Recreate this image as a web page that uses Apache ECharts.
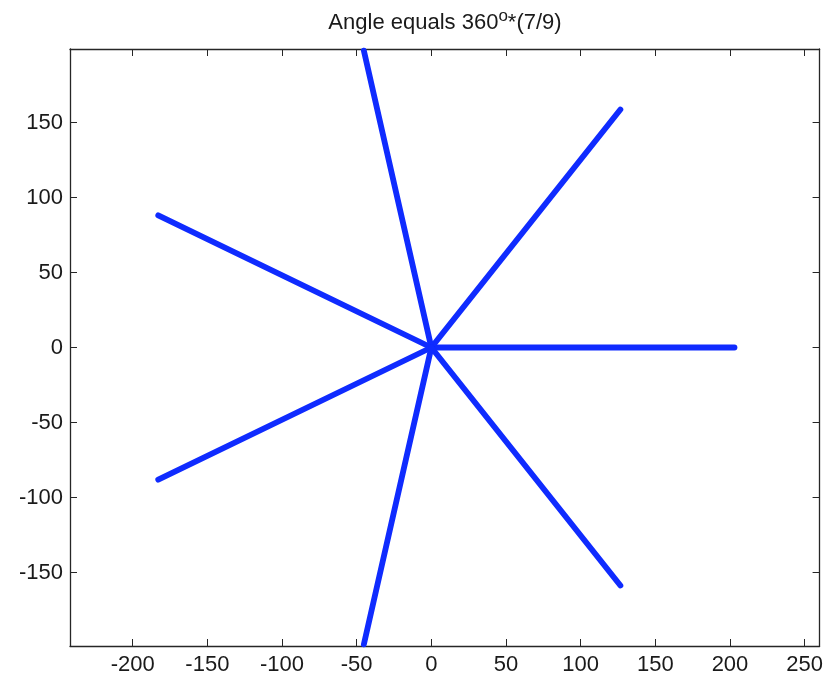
<!DOCTYPE html>
<html>
<head>
<meta charset="utf-8">
<script src="https://cdn.jsdelivr.net/npm/echarts@6/dist/echarts.min.js"></script>
<style>
html, body { margin: 0; padding: 0; background: #fff; }
#main { width: 826px; height: 680px; }
</style>
</head>
<body>
<div id="main"></div>
<script>
// ray end points (all rays start at the origin)
var rayX = [203, 126.6, -45.2, -182.9, -182.9, -45.2, 126.6];
var rayY = [0, 158.7, 197.9, 88.1, -88.1, -197.9, -158.7];
var xTicks = [-200, -150, -100, -50, 0, 50, 100, 150, 200, 250];
var yTicks = [-150, -100, -50, 0, 50, 100, 150];

var myChart = echarts.init(document.getElementById('main'));

// one line series per ray
var rays = [];
for (var i = 0; i < rayX.length; i++) {
    rays.push({
        type: 'line',
        xAxisIndex: 0,
        yAxisIndex: 0,
        data: [[0, 0], [rayX[i], rayY[i]]],
        symbol: 'none',
        silent: true,
        lineStyle: { color: '#0f2bff', width: 5.8, cap: 'round' }
    });
}

var axisCommon = {
    type: 'value',
    splitLine: { show: false },
    axisLine: { onZero: false, lineStyle: { color: '#262626', width: 1.3 } },
    axisTick: { inside: true, length: 7, lineStyle: { color: '#262626' } }
};

function xAxis(pos, showLabel) {
    return Object.assign({}, axisCommon, {
        position: pos,
        min: -242,
        max: 260,
        axisTick: Object.assign({}, axisCommon.axisTick, { customValues: xTicks }),
        axisLabel: {
            show: showLabel,
            customValues: xTicks,
            color: '#1a1a1a',
            fontFamily: 'Liberation Sans',
            fontSize: 22,
            margin: 8
        }
    });
}

function yAxis(pos, showLabel) {
    return Object.assign({}, axisCommon, {
        position: pos,
        min: -199,
        max: 199,
        axisTick: Object.assign({}, axisCommon.axisTick, { customValues: yTicks }),
        axisLabel: {
            show: showLabel,
            customValues: yTicks,
            color: '#1a1a1a',
            fontFamily: 'Liberation Sans',
            fontSize: 22,
            margin: 7
        }
    });
}

var option = {
    backgroundColor: '#fff',
    animation: false,
    title: {
        text: '{t|Angle equals 360}{sup|o}{t|*(7/9)}',
        left: 440,
        top: 3,
        textAlign: 'center',
        textStyle: {
            color: '#1a1a1a',
            fontFamily: 'Liberation Sans',
            fontSize: 22,
            fontWeight: 'normal',
            rich: {
                t: { fontSize: 22, verticalAlign: 'bottom', color: '#1a1a1a', fontFamily: 'Liberation Sans' },
                sup: { fontSize: 17, verticalAlign: 'bottom', padding: [0, 0, 9, 0], color: '#1a1a1a', fontFamily: 'Liberation Sans' }
            }
        }
    },
    grid: { left: 70, right: 3, top: 49, bottom: 34, containLabel: false },
    xAxis: [xAxis('bottom', true), xAxis('top', false)],
    yAxis: [yAxis('left', true), yAxis('right', false)],
    series: rays
};

myChart.setOption(option);
</script>
</body>
</html>
